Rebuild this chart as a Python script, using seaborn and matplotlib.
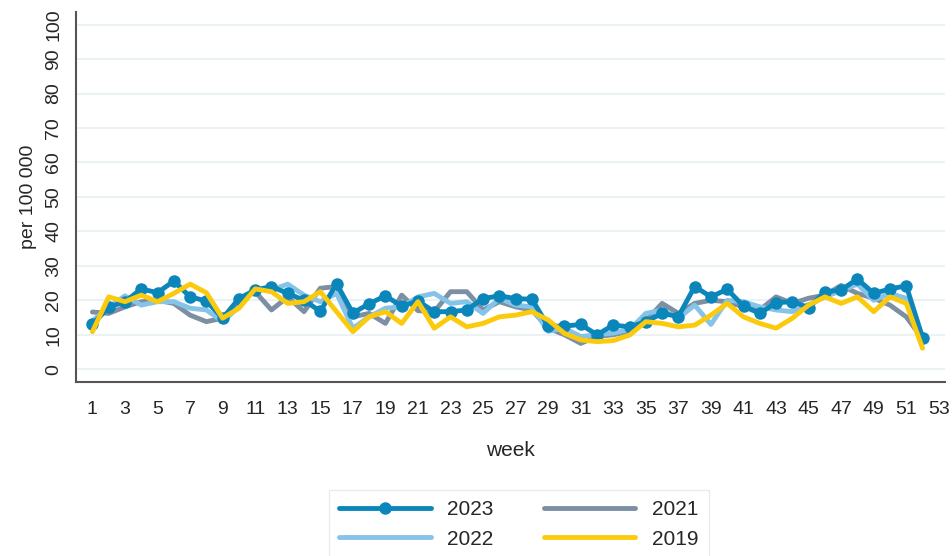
import matplotlib
matplotlib.use("Agg")
import matplotlib.pyplot as plt
import seaborn as sns
import pandas as pd

weeks = list(range(1, 53))

y2023 = [13, 18, 19.6, 23.3, 22.2, 25.6, 21, 19.8, 14.8, 20.5,
         23, 24, 22, 20, 16.8, 24.8, 16.3, 19, 21.3, 18.3,
         19.8, 16.7, 16.7, 17.2, 20.5, 21.3, 20.5, 20.3, 12.5, 12.5,
         13, 10, 12.8, 12.3, 13.8, 16.2, 15.3, 24, 21, 23.2,
         18.3, 16.2, 19.3, 19.6, 17.9, 22.4, 23, 26.2, 22, 23.3,
         24.2, 9.2]
y2022 = [14, 18, 21.3, 18.6, 19.6, 19.6, 17.7, 17.2, 13.8, 18.1,
         23.3, 23, 24.7, 21.5, 19.6, 22, 11.9, 15.2, 17.7, 18.1,
         21, 22, 19.1, 19.6, 16.2, 20.6, 18.6, 18.1, 11, 11.9,
         9.5, 10, 10.5, 11.5, 16.2, 17.2, 14.8, 18.6, 13, 20,
         19.6, 18.1, 17.2, 16.7, 18.6, 21, 22.8, 24.7, 20, 22,
         20.6, 9.3]
y2021 = [16.6, 16.2, 18.1, 19.6, 20, 19.1, 15.7, 13.8, 14.8, 20,
         22.5, 17.2, 21, 16.7, 23.5, 24, 15.2, 16.2, 13.3, 21.5,
         17, 16.7, 22.5, 22.5, 17.2, 19.6, 18.1, 17.2, 11.9, 10,
         7.5, 9.5, 10, 11, 14, 19.1, 16.2, 19.1, 20, 19.6,
         18.1, 17.2, 21, 19.1, 20.6, 21.5, 24.3, 22, 20.6, 18.6,
         15.2, 8.8]
y2019 = [10.9, 21, 19.6, 21.5, 19.6, 22, 24.7, 22.2, 14.8, 17.7,
         23.3, 22.5, 19.1, 19.6, 22.5, 16.7, 10.9, 15.2, 16.7, 13.3,
         19.6, 11.9, 15.2, 12.3, 13.3, 15.2, 15.7, 16.7, 14.3, 10.4,
         8.5, 8, 8.3, 9.9, 13.8, 13.3, 12.3, 12.8, 15.7, 19.1,
         15.2, 13.3, 11.9, 14.8, 18.6, 21, 19.1, 21, 16.7, 21,
         19.1, 6.1]

colors = {"2023": "#0b86bb", "2022": "#85c4e8", "2021": "#7d8fa3", "2019": "#fcca0c"}

df = pd.DataFrame({"week": weeks, "2023": y2023, "2022": y2022,
                   "2021": y2021, "2019": y2019})

sns.set_style("white")
plt.rcParams["font.family"] = ["Liberation Sans", "DejaVu Sans"]

fig = plt.figure(figsize=(9.52, 5.56), dpi=100)
ax = fig.add_axes([0.08, 0.313, 0.913, 0.665])

# draw order: 2021, 2022, 2023 and 2019 on top
sns.lineplot(data=df, x="week", y="2021", ax=ax, color=colors["2021"], lw=3.5, label="2021")
sns.lineplot(data=df, x="week", y="2022", ax=ax, color=colors["2022"], lw=3.5, label="2022")
sns.lineplot(data=df, x="week", y="2023", ax=ax, color=colors["2023"], lw=3.5,
             marker="o", markersize=9, markeredgewidth=0, label="2023")
sns.lineplot(data=df, x="week", y="2019", ax=ax, color=colors["2019"], lw=3.5, label="2019")

ax.set_xlim(0, 53.4)
ax.set_ylim(-3.7, 103.6)
ax.set_xticks(range(1, 54, 2))
ax.set_yticks(range(0, 101, 10))
ax.tick_params(axis="x", labelsize=14, length=6, width=1.2, color="#555555", pad=8)
ax.tick_params(axis="y", labelsize=14, length=6, width=1.2, color="#555555", pad=4)
for lab in ax.get_yticklabels():
    lab.set_rotation(90)
    lab.set_va("center")
ax.grid(axis="y", color="#e8f0f2", lw=1.2)
ax.set_axisbelow(True)
for s in ["top", "right"]:
    ax.spines[s].set_visible(False)
for s in ["left", "bottom"]:
    ax.spines[s].set_color("#555555")
    ax.spines[s].set_linewidth(1.5)

ax.set_xlabel("week", fontsize=15, labelpad=16)
ax.set_ylabel("per 100 000", fontsize=14, labelpad=6)

handles, labels = ax.get_legend_handles_labels()
ax.get_legend().remove()
order = [labels.index(k) for k in ["2023", "2022", "2021", "2019"]]
fig.legend([handles[i] for i in order], [labels[i] for i in order],
           ncol=2, loc="upper center", bbox_to_anchor=(0.545, 0.138),
           fontsize=15, frameon=True, fancybox=False, edgecolor="#e6e6e6",
           handlelength=4.4, columnspacing=2.4, handletextpad=0.8,
           labelspacing=0.5, borderpad=0.5)

fig.savefig("out.png", dpi=100)
